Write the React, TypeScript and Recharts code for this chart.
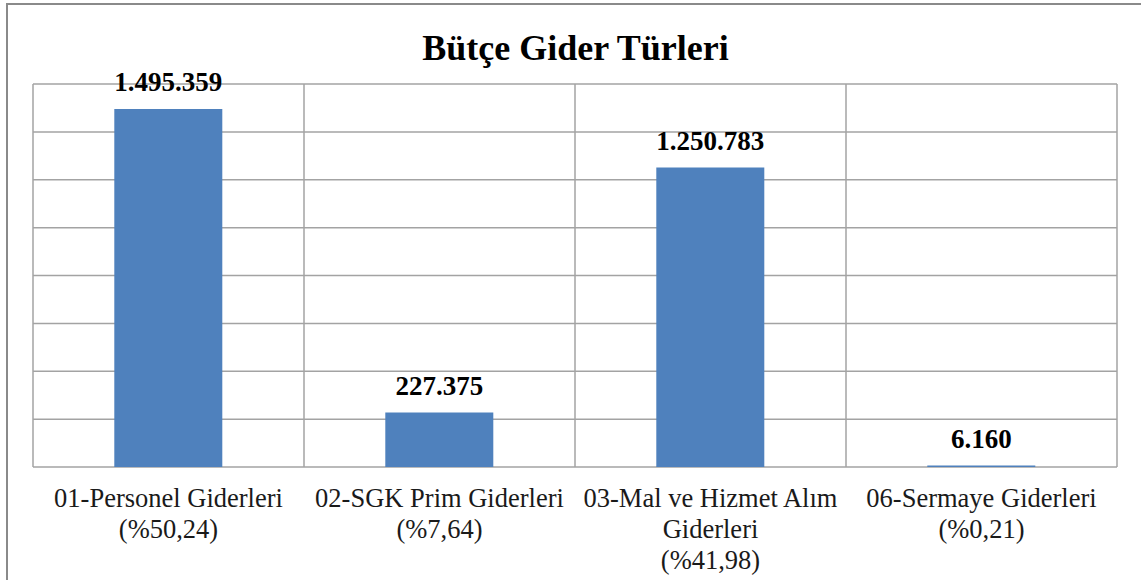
import React from "react";
import { Bar, BarChart, CartesianGrid, LabelList, XAxis, YAxis } from "recharts";

const categories = [
  "01-Personel Giderleri",
  "02-SGK Prim Giderleri",
  "03-Mal ve Hizmet Alım Giderleri",
  "06-Sermaye Giderleri",
];
const shares = ["%50,24", "%7,64", "%41,98", "%0,21"];
const amounts = [1495359, 227375, 1250783, 6160];
const yTicks = [0, 200000, 400000, 600000, 800000, 1000000, 1200000, 1400000, 1600000];

const data = categories.map((name, i) => ({
  name,
  share: shares[i],
  amount: amounts[i],
}));

const FONT = "'Liberation Serif', 'Times New Roman', serif";

// tr-TR style thousands separator
const fmt = (v) => String(v).replace(/\B(?=(\d{3})+(?!\d))/g, ".");

const wrap = (text, max) => {
  const words = text.split(" ");
  const lines = [];
  let cur = "";
  words.forEach((w) => {
    const next = cur ? cur + " " + w : w;
    if (next.length > max && cur) {
      lines.push(cur);
      cur = w;
    } else {
      cur = next;
    }
  });
  if (cur) lines.push(cur);
  return lines;
};

const CategoryTick = (props) => {
  const { x, y, payload, index } = props;
  const lines = [...wrap(payload.value, 21), "(" + shares[index] + ")"];
  return (
    <text x={x} y={y} textAnchor="middle" fontFamily={FONT} fontSize={26.5} fill="#1a1a1a">
      {lines.map((l, i) => (
        <tspan key={i} x={x} dy={i === 0 ? 32 : 31}>
          {l}
        </tspan>
      ))}
    </text>
  );
};

const gridColumns = ({ offset }) =>
  categories.map((_, i) => offset.left + (i * offset.width) / categories.length).concat(offset.left + offset.width);

const App = () => {
  return (
    <div style={{ position: "absolute", left: 0, top: 0, width: 1141, height: 580, overflow: "hidden", background: "#fff" }}>
      <div
        style={{
          position: "absolute",
          left: 6,
          top: 3,
          width: 1200,
          height: 700,
          border: "2px solid #8a8a8a",
        }}
      />
      <div
        style={{
          position: "absolute",
          left: 5,
          top: 30,
          width: 1141,
          textAlign: "center",
          fontFamily: FONT,
          fontWeight: "bold",
          fontSize: 36,
          lineHeight: "36px",
          color: "#000",
        }}
      >
        Bütçe Gider Türleri
      </div>
      <div style={{ position: "absolute", left: 0, top: 0 }}>
        <BarChart
          width={1141}
          height={580}
          data={data}
          margin={{ top: 84, right: 24, bottom: 83, left: 33 }}
          barCategoryGap="30%"
        >
          <CartesianGrid
            stroke="#a3a3a3"
            strokeWidth={1.5}
            verticalCoordinatesGenerator={gridColumns}
          />
          <XAxis
            dataKey="name"
            height={30}
            axisLine={false}
            tickLine={false}
            interval={0}
            tick={<CategoryTick />}
          />
          <YAxis hide domain={[0, 1600000]} ticks={yTicks} />
          <Bar dataKey="amount" fill="#4f81bd" isAnimationActive={false}>
            <LabelList
              dataKey="amount"
              position="top"
              offset={18}
              formatter={fmt}
              fontFamily={FONT}
              fontWeight="bold"
              fontSize={27}
              fill="#000"
            />
          </Bar>
        </BarChart>
      </div>
    </div>
  );
};

export default App;
